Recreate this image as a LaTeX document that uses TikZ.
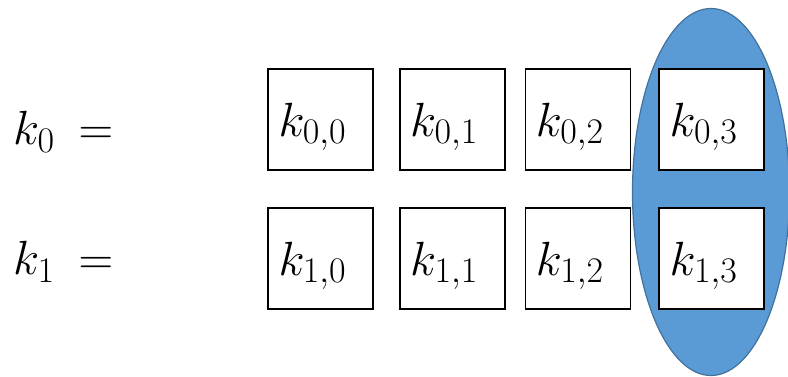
\RequirePackage{fix-cm}
\documentclass[tikz,border=0pt]{standalone}
\usepackage{amsmath}
\usepackage{tikz}
\usetikzlibrary{positioning,shapes.geometric}
\definecolor{selBlue}{HTML}{5B9BD5}
\definecolor{selEdge}{HTML}{41719C}
\DeclareMathSizes{48}{48}{36}{26}

\begin{document}
\begin{tikzpicture}[x=1pt,y=1pt,
    cell/.style={draw=black,line width=1.7pt,fill=white,minimum width=105pt,minimum height=101pt,
      inner sep=0pt,text width=84pt,align=left,text height=34pt,text depth=0pt,font=\fontsize{48}{58}\selectfont},
    keylbl/.style={anchor=base west,inner sep=0pt,font=\fontsize{48}{58}\selectfont}]
  \useasboundingbox (0,0) rectangle (788,377);
  % selected column
  \node[ellipse,draw=selEdge,fill=selBlue,line width=1.2pt,minimum width=157pt,minimum height=367pt] (sel) at (711,185) {};
  % row 0
  \node[cell] (k00) at (320.5,257.5) {$k_{0,0}$};
  \node[cell,right=25pt of k00] (k01) {$k_{0,1}$};
  \node[cell,right=19pt of k01] (k02) {$k_{0,2}$};
  \node[cell,right=27pt of k02] (k03) {$k_{0,3}$};
  % row 1
  \node[cell,below=36pt of k00] (k10) {$k_{1,0}$};
  \node[cell,right=25pt of k10] (k11) {$k_{1,1}$};
  \node[cell,right=19pt of k11] (k12) {$k_{1,2}$};
  \node[cell,right=27pt of k12] (k13) {$k_{1,3}$};
  % labels
  \node[keylbl] (lbl0) at (13,232) {$k_0\mskip 4mu=$};
  \node[keylbl] (lbl1) at (13,102) {$k_1\mskip 4mu=$};
\end{tikzpicture}
\end{document}
